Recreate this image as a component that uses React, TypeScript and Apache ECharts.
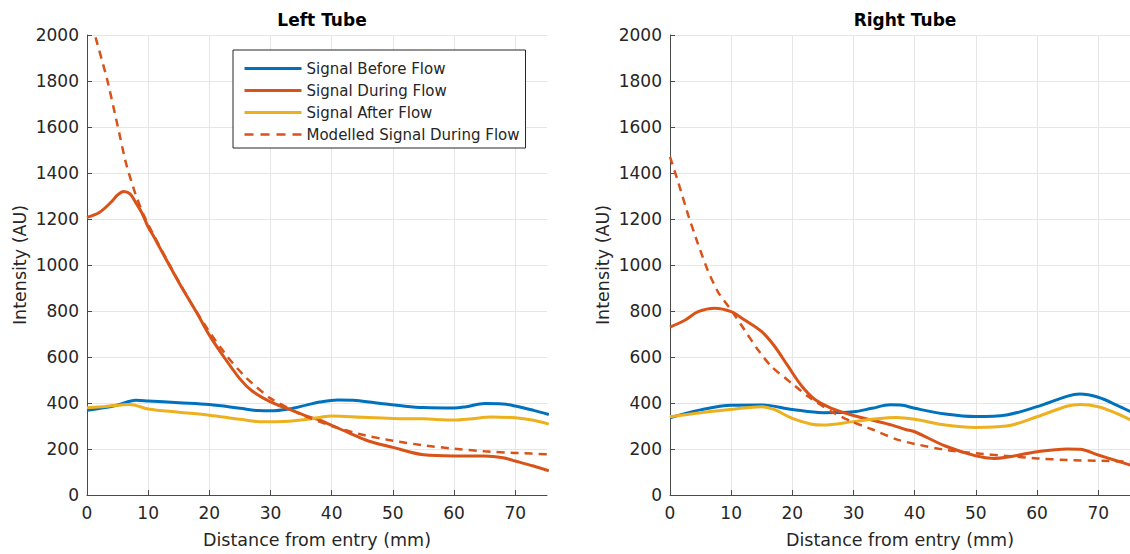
import React, { useEffect, useRef } from "react";
import * as echarts from "echarts";

const panelTitles = ["Left Tube", "Right Tube"];
const seriesNames = ["Signal Before Flow", "Signal During Flow", "Signal After Flow", "Modelled Signal During Flow"];
const xName = "Distance from entry (mm)";
const yName = "Intensity (AU)";

// Left tube
const leftBeforeX = [0, 3, 5, 8, 10, 15, 20, 25, 28, 30, 33, 36, 38, 41, 44, 48, 52, 55, 60, 62, 65, 68, 70, 73, 75.5];
const leftBeforeY = [368, 380, 391, 412, 409, 401, 393, 377, 367, 366, 374, 392, 404, 413, 411, 398, 386, 380, 378, 384, 398, 396, 387, 368, 350];
const leftDuringX = [0, 2, 4, 5, 6, 7, 8, 9, 10, 11, 12, 15, 18, 20, 22, 25, 27, 30, 33, 36, 38, 40, 43, 46, 50, 55, 60, 65, 68, 70, 73, 75.5];
const leftDuringY = [1207, 1228, 1275, 1305, 1320, 1310, 1270, 1225, 1165, 1120, 1070, 925, 790, 695, 615, 505, 452, 405, 373, 342, 326, 303, 268, 235, 207, 175, 170, 170, 162, 148, 126, 105];
const leftAfterX = [0, 3, 7, 10, 15, 20, 25, 29, 33, 36, 38, 40, 45, 50, 55, 60, 63, 66, 70, 73, 75.5];
const leftAfterY = [379, 385, 394, 374, 360, 347, 329, 318, 321, 329, 337, 344, 338, 333, 331, 326, 332, 339, 336, 325, 308];
const leftModelX = [1.4, 3.3, 4.95, 6.4, 7.9, 9.3, 11, 13, 15, 17, 20, 23, 26, 30, 35, 40, 45, 50, 55, 60, 65, 70, 75.5];
const leftModelY = [1990, 1806, 1612, 1440, 1310, 1215, 1125, 1025, 928, 835, 710, 600, 510, 420, 350, 300, 262, 236, 216, 201, 190, 183, 177];

// Right tube
const rightBeforeX = [0, 5, 10, 15, 20, 25, 30, 33, 36, 38, 40, 45, 50, 55, 60, 65, 67, 70, 73, 75.5];
const rightBeforeY = [336, 370, 390, 391, 372, 358, 362, 377, 392, 390, 377, 352, 341, 348, 384, 430, 439, 425, 391, 360];
const rightDuringX = [0, 2.5, 4.6, 7.3, 10, 12.2, 15, 17, 19.3, 21.5, 23.7, 26.4, 29.7, 33, 36.3, 38.5, 40, 45, 50, 53, 55, 60, 65, 67, 70, 73, 75.5];
const rightDuringY = [730, 761, 797, 812, 797, 761, 710, 650, 560, 475, 415, 377, 348, 326, 304, 285, 275, 213, 170, 159, 164, 188, 200, 199, 174, 149, 128];
const rightAfterX = [0, 5, 10, 15, 17, 20, 23, 25, 30, 33, 37, 40, 45, 50, 55, 60, 65, 67, 70, 73, 75.5];
const rightAfterY = [340, 358, 372, 384, 372, 333, 309, 304, 319, 329, 337, 329, 304, 294, 300, 340, 387, 394, 384, 355, 324];
const rightModelX = [0, 1.4, 3, 4.6, 6.2, 7.9, 10, 12.2, 14.4, 16.6, 19.9, 22.6, 26.4, 29.7, 33, 37, 40, 45, 50, 55, 60, 65, 70, 75.5];
const rightModelY = [1470, 1355, 1215, 1090, 975, 880, 804, 717, 630, 558, 486, 428, 362, 319, 286, 242, 222, 196, 181, 170, 159, 152, 149, 145];

const COLORS = ["#0072BD", "#D95319", "#EDB120", "#D95319"];
const FONT = "DejaVu Sans, Verdana, sans-serif";
const TXT = "#262626";

const zip = (xs: number[], ys: number[]) => xs.map((x, i) => [x, ys[i]]);

export default function App() {
  const ref = useRef<HTMLDivElement>(null);
  useEffect(() => {
    if (!ref.current) return;
    const chart = echarts.init(ref.current, undefined, { renderer: "svg" });
    const grids = [
      { left: 87, top: 35, width: 460, height: 460 },
      { left: 670, top: 35, width: 460, height: 460 },
    ];
    const xAxes = grids.map((_, i) => ({
      type: "value",
      gridIndex: i,
      min: 0,
      max: 75.2,
      interval: 10,
      name: xName,
      nameLocation: "middle",
      nameGap: 36,
      nameTextStyle: { fontSize: 17.5, color: TXT, fontFamily: FONT },
      axisLine: { show: true, lineStyle: { color: "#4a4a4a", width: 1 } },
      axisTick: { show: true, inside: true, length: 5, lineStyle: { color: "#4a4a4a" } },
      axisLabel: {
        fontSize: 17,
        color: TXT,
        fontFamily: FONT,
        margin: 9,
        showMaxLabel: false,
        formatter: (v: number) => (v % 10 === 0 ? String(v) : ""),
      },
      splitLine: { show: true, showMaxLine: false, lineStyle: { color: "#e6e6e6", width: 1 } },
    }));
    const yAxes = grids.map((_, i) => ({
      type: "value",
      gridIndex: i,
      min: 0,
      max: 2000,
      interval: 200,
      name: yName,
      nameLocation: "middle",
      nameGap: 58,
      nameRotate: 90,
      nameTextStyle: { fontSize: 17.5, color: TXT, fontFamily: FONT },
      axisLine: { show: true, lineStyle: { color: "#4a4a4a", width: 1 } },
      axisTick: { show: true, inside: true, length: 5, lineStyle: { color: "#4a4a4a" } },
      axisLabel: { fontSize: 17, color: TXT, fontFamily: FONT, margin: 8, formatter: (v: number) => String(v) },
      splitLine: { show: true, lineStyle: { color: "#e6e6e6", width: 1 } },
    }));
    const panels = [
      [zip(leftBeforeX, leftBeforeY), zip(leftDuringX, leftDuringY), zip(leftAfterX, leftAfterY), zip(leftModelX, leftModelY)],
      [zip(rightBeforeX, rightBeforeY), zip(rightDuringX, rightDuringY), zip(rightAfterX, rightAfterY), zip(rightModelX, rightModelY)],
    ];
    const series: any[] = [];
    panels.forEach((sets, p) => {
      sets.forEach((data, k) => {
        series.push({
          type: "line",
          name: seriesNames[k],
          xAxisIndex: p,
          yAxisIndex: p,
          data,
          smooth: k === 3 ? 0.2 : 0.35,
          symbol: "none",
          clip: true,
          color: COLORS[k],
          lineStyle: {
            color: COLORS[k],
            width: k === 3 ? 2.5 : 3,
            type: k === 3 ? [8, 6] : "solid",
          },
          z: 2 + k,
        });
      });
    });
    chart.setOption({
      animation: false,
      backgroundColor: "#ffffff",
      title: panelTitles.map((t, i) => ({
        text: t,
        left: grids[i].left + grids[i].width / 2,
        top: 6,
        textAlign: "center",
        textStyle: { fontSize: 17, fontWeight: "bold", color: "#000", fontFamily: FONT },
      })),
      legend: {
        data: seriesNames.map((n, k) => ({
          name: n,
          lineStyle: { color: COLORS[k], width: k === 3 ? 2.5 : 3, type: k === 3 ? [9, 7] : "solid" },
        })),
        orient: "vertical",
        left: 233,
        top: 50,
        padding: [11, 6, 6, 10],
        itemWidth: 57,
        itemHeight: 14,
        itemGap: 7,
        borderColor: "#262626",
        borderWidth: 1,
        backgroundColor: "#ffffff",
        itemStyle: { opacity: 0 },
        textStyle: { fontSize: 15, color: TXT, fontFamily: FONT },
      },
      grid: grids,
      xAxis: xAxes,
      yAxis: yAxes,
      series,
    } as any);
    return () => chart.dispose();
  }, []);
  return <div ref={ref} style={{ position: "fixed", left: 0, top: 0, width: 1130, height: 554, background: "#fff" }} />;
}
